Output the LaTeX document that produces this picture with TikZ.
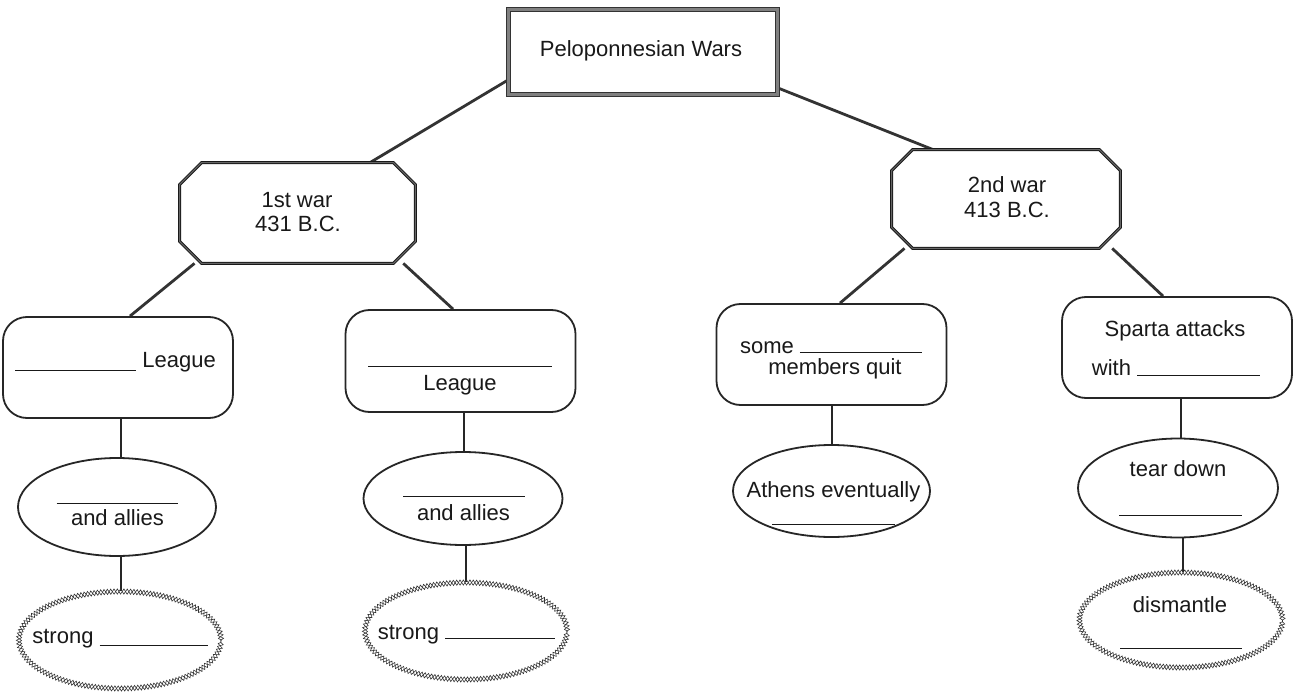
\documentclass[tikz,border=0pt]{standalone}
\usepackage{fontspec}
\setmainfont{Liberation Sans}
\usetikzlibrary{shapes.geometric,decorations.pathmorphing,backgrounds}
\newcommand\answerline[2][0pt]{\rule[#1]{#2}{0.7pt}}
% octagonal outline around a rectangular node: \waroutline{name}{corner cut}
\newcommand\waroutline[2]{%
  \filldraw[warline]
    ([xshift=#2]#1.north west) -- ([xshift=-#2]#1.north east) --
    ([yshift=-#2]#1.north east) -- ([yshift=#2]#1.south east) --
    ([xshift=-#2]#1.south east) -- ([xshift=#2]#1.south west) --
    ([yshift=#2]#1.south west) -- ([yshift=-#2]#1.north west) -- cycle;}
\begin{document}
\begin{tikzpicture}[x=0.5pt,y=-0.5pt,
  font=\fontsize{11}{13}\selectfont,
  titlebox/.style={rectangle, draw=black!80, line width=0.5pt, double=black!50,
    double distance=1.4pt, fill=white, minimum width=134.5pt, minimum height=42.5pt, inner sep=0pt},
  warbox/.style={rectangle, inner sep=0pt},
  warline/.style={draw=black!90, line width=0.5pt, double=black!60, double distance=0.5pt,
    fill=white, line join=miter},
  roundbox/.style={rectangle, rounded corners=12pt, draw=black!85, line width=0.9pt, fill=white,
    minimum width=115pt, minimum height=50.5pt, inner sep=0pt},
  oval/.style={ellipse, draw=black!85, line width=0.9pt, fill=white, inner sep=0pt},
  chainoval/.style={ellipse, fill=white, inner sep=0pt,
    postaction={draw=black!80, line width=0.3pt, decorate,
      decoration={zigzag, amplitude=1.3pt, segment length=3.3pt}},
    postaction={draw=black!80, line width=0.3pt, decorate,
      decoration={zigzag, amplitude=-1.3pt, segment length=3.3pt}}},
  txt/.style={anchor=base, inner sep=0pt, text=black!90},
  link/.style={draw=black!80, line width=1.4pt},
  stem/.style={draw=black!85, line width=1pt}]

\useasboundingbox (0,0) rectangle (1294,695);

% boxes
\node[titlebox] (top) at (643,52) {};
\node[warbox, minimum width=117.5pt, minimum height=50pt] (w1) at (297.5,213) {};
\waroutline{w1}{11pt}
\node[warbox, minimum width=114pt, minimum height=49pt] (w2) at (1006,199) {};
\waroutline{w2}{10.5pt}

\node[roundbox] (lA) at (118,367.5) {};
\node[roundbox, minimum height=51pt] (lB) at (460.5,361) {};
\node[roundbox] (lC) at (831.5,354.5) {};
\node[roundbox] (lD) at (1177,347.5) {};

\node[oval, minimum width=99pt, minimum height=49pt] (eA) at (117,507) {};
\node[oval, minimum width=99.5pt, minimum height=46.5pt] (eB) at (463,498.5) {};
\node[oval, minimum width=98.5pt, minimum height=46pt] (eC) at (831.5,491) {};
\node[oval, minimum width=100pt, minimum height=49.5pt] (eD) at (1178,488) {};

\node[chainoval, minimum width=101pt, minimum height=48.5pt] (zA) at (120,640) {};
\node[chainoval, minimum width=101pt, minimum height=48.5pt] (zB) at (466,631) {};
\node[chainoval, minimum width=101.5pt, minimum height=47.5pt] (zD) at (1181,620) {};

% texts
\node[txt] (tTop) at (641,57) {Peloponnesian Wars};
\node[txt] (t1a) at (297,207) {1st war};
\node[txt] (t1b) at (298,232) {431 B.C.};
\node[txt] (t2a) at (1007,193) {2nd war};
\node[txt] (t2b) at (1007,218) {413 B.C.};

\node[txt] (tA) at (115.5,367) {\answerline[-2pt]{60.5pt} League};
\node[txt] (tB1) at (460,367) {\answerline{92pt}};
\node[txt] (tB2) at (460,390) {League};
\node[txt] (tC1) at (831,353) {some \answerline{61pt}};
\node[txt] (tC2) at (835,374) {members quit};
\node[txt] (tD1) at (1175,336) {Sparta attacks};
\node[txt] (tD2) at (1176,375) {with \answerline[-0.5pt]{61.5pt}};

\node[txt] (tEA1) at (117,504) {\answerline{60.5pt}};
\node[txt] (tEA2) at (117.5,525) {and allies};
\node[txt] (tEB1) at (464,497) {\answerline{61pt}};
\node[txt] (tEB2) at (463.5,520) {and allies};
\node[txt] (tEC1) at (833.5,497) {Athens eventually};
\node[txt] (tEC2) at (833.5,525) {\answerline{61.5pt}};
\node[txt] (tED1) at (1178,476) {tear down};
\node[txt] (tED2) at (1180.5,516) {\answerline{61.5pt}};

\node[txt] (tZA) at (120,643) {strong \answerline[-1.5pt]{54pt}};
\node[txt] (tZB) at (466.5,639) {strong \answerline{55pt}};
\node[txt] (tZD1) at (1180,612) {dismantle};
\node[txt] (tZD2) at (1181,649) {\answerline{61pt}};

% connectors, kept under the boxes
\begin{pgfonlayer}{background}
  \fill[white] (0,0) rectangle (1294,695);
  \draw[link] ([yshift=-14pt]top.west) -- ([xshift=36.25pt]w1.north);
  \draw[link] ([yshift=-18pt]top.east) -- ([xshift=-36.5pt]w2.north);
  \draw[link] ([xshift=-51.5pt]w1.south) -- ([xshift=6pt]lA.north);
  \draw[link] ([xshift=52.9pt]w1.south) -- ([xshift=-3.75pt]lB.north);
  \draw[link] ([xshift=-50.75pt]w2.south) -- ([xshift=4.25pt]lC.north);
  \draw[link] ([xshift=53.1pt]w2.south) -- ([xshift=-7pt]lD.north);

  \draw[stem] ([xshift=1.5pt]lA.south) -- ([xshift=2pt]eA.north);
  \draw[stem] ([xshift=2pt]eA.south) -- ([xshift=0.5pt]zA.north);
  \draw[stem] ([xshift=1.75pt]lB.south) -- ([xshift=0.5pt]eB.north);
  \draw[stem] ([xshift=1.5pt]eB.south) -- (zB.north);
  \draw[stem] ([xshift=0.25pt]lC.south) -- ([xshift=0.25pt]eC.north);
  \draw[stem] ([xshift=2pt]lD.south) -- ([xshift=1.5pt]eD.north);
  \draw[stem] ([xshift=2.5pt]eD.south) -- ([xshift=1pt]zD.north);
\end{pgfonlayer}
\end{tikzpicture}
\end{document}
